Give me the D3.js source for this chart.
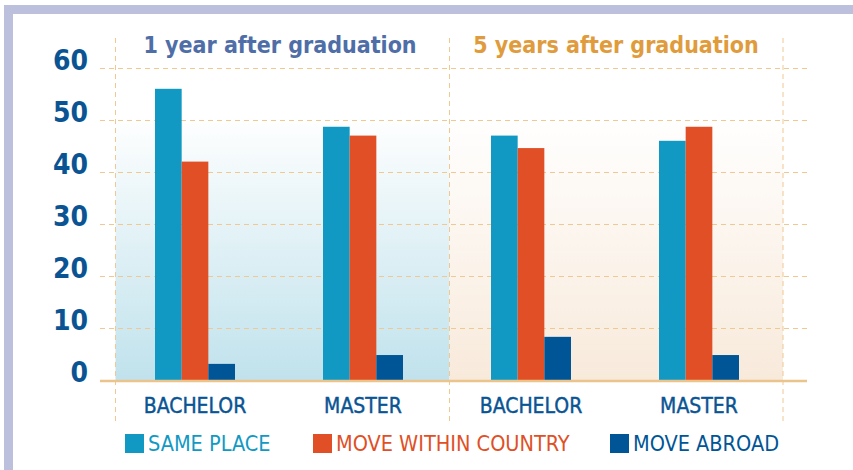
<!DOCTYPE html>
<meta charset="utf-8">
<style>
body { margin: 0; background: #fff; }
text { font-family: "DejaVu Sans Condensed", "DejaVu Sans", sans-serif; }
.grid line { stroke: #f0c890; stroke-dasharray: 5,4; stroke-width: 1px; }
</style>
<script src="https://d3js.org/d3.v7.min.js"></script>
<body>
<div id="chart"></div>
</body>
<script>
// categories and series
var categories = ["B1", "M1", "B5", "M5"];
var catLabels = ["BACHELOR", "MASTER", "BACHELOR", "MASTER"];
var seriesNames = ["SAME PLACE", "MOVE WITHIN COUNTRY", "MOVE ABROAD"];
var samePlace = [56, 48.7, 47, 46];
var moveWithin = [42, 47, 44.6, 48.7];
var moveAbroad = [3.1, 4.8, 8.3, 4.8];
var yTicks = [0, 10, 20, 30, 40, 50, 60];
var panelTitles = ["1 year after graduation", "5 years after graduation"];

var colors = ["#1199c4", "#e04f26", "#005596"];
var series = [samePlace, moveWithin, moveAbroad];

var W = 853, H = 470;
var svg = d3.select("#chart").append("svg")
    .attr("width", W)
    .attr("height", H);

// frame (top and left)
svg.append("rect").attr("x", 4).attr("y", 5).attr("width", W - 4).attr("height", 9).attr("fill", "#bcc0dc");
svg.append("rect").attr("x", 4).attr("y", 5).attr("width", 9).attr("height", H - 5).attr("fill", "#bcc0dc");

// scales
var y = d3.scaleLinear().domain([0, 60]).range([380, 68]);
var x = d3.scaleBand().domain(categories).range([111, 783]);
var xs = d3.scaleBand().domain(d3.range(3)).range([0, 80]);
var panelX = [115.5, 449.5, 783];

// background gradients
var defs = svg.append("defs");
var g1 = defs.append("linearGradient").attr("id", "gBlue").attr("x1", 0).attr("y1", 0).attr("x2", 0).attr("y2", 1);
g1.append("stop").attr("offset", "0%").attr("stop-color", "#ffffff");
g1.append("stop").attr("offset", "15%").attr("stop-color", "#ffffff");
g1.append("stop").attr("offset", "100%").attr("stop-color", "#c0e2ec");
var g2 = defs.append("linearGradient").attr("id", "gPeach").attr("x1", 0).attr("y1", 0).attr("x2", 0).attr("y2", 1);
g2.append("stop").attr("offset", "0%").attr("stop-color", "#ffffff");
g2.append("stop").attr("offset", "15%").attr("stop-color", "#ffffff");
g2.append("stop").attr("offset", "100%").attr("stop-color", "#f8eadb");

svg.append("rect").attr("x", panelX[0]).attr("y", y(60))
    .attr("width", panelX[1] - panelX[0]).attr("height", y(0) - y(60))
    .attr("fill", "url(#gBlue)");
svg.append("rect").attr("x", panelX[1]).attr("y", y(60))
    .attr("width", panelX[2] - panelX[1]).attr("height", y(0) - y(60))
    .attr("fill", "url(#gPeach)");

// horizontal grid
svg.append("g").attr("class", "grid")
  .selectAll("line").data(yTicks.filter(function(d) { return d > 0; }))
  .enter().append("line")
    .attr("x1", 100).attr("x2", 807)
    .attr("y1", function(d) { return y(d) + 0.5; })
    .attr("y2", function(d) { return y(d) + 0.5; });

// vertical dividers
svg.append("g").attr("class", "grid")
  .selectAll("line").data(panelX)
  .enter().append("line")
    .attr("x1", function(d) { return d; }).attr("x2", function(d) { return d; })
    .attr("y1", 38).attr("y2", 423);

// bars
series.forEach(function(vals, i) {
  svg.append("g").selectAll("rect").data(vals)
    .enter().append("rect")
      .attr("x", function(d, j) { return x(categories[j]) + x.bandwidth() / 2 - 40 + xs(i); })
      .attr("y", function(d) { return y(d); })
      .attr("width", xs.bandwidth())
      .attr("height", function(d) { return y(0) - y(d); })
      .attr("fill", colors[i]);
});

// baseline
svg.append("line").attr("x1", 100).attr("x2", 807)
    .attr("y1", y(0) + 1).attr("y2", y(0) + 1)
    .attr("stroke", "#ebc48c").attr("stroke-width", 2.5);

// y axis labels
svg.append("g").selectAll("text").data(yTicks)
  .enter().append("text")
    .attr("x", 88).attr("y", function(d) { return y(d) + 2; })
    .attr("text-anchor", "end")
    .attr("font-family", "'DejaVu Sans', sans-serif")
    .attr("font-weight", "bold")
    .attr("font-size", 28)
    .attr("fill", "#0a5494")
    .text(function(d) { return d; });

// x labels
svg.append("g").selectAll("text").data(categories)
  .enter().append("text")
    .attr("x", function(d) { return x(d) + x.bandwidth() / 2; })
    .attr("y", 413)
    .attr("text-anchor", "middle")
    .attr("font-size", 21)
    .attr("fill", "#0a5494")
    .attr("stroke", "#0a5494")
    .attr("stroke-width", 0.4)
    .text(function(d, i) { return catLabels[i]; });

// panel titles
svg.append("text").attr("x", 280).attr("y", 53).attr("text-anchor", "middle")
    .attr("font-weight", "bold").attr("font-size", 23).attr("fill", "#4f6ea8")
    .text(panelTitles[0]);
svg.append("text").attr("x", 616).attr("y", 53).attr("text-anchor", "middle")
    .attr("font-weight", "bold").attr("font-size", 23).attr("fill", "#e09c3c")
    .text(panelTitles[1]);

// legend
var legX = [125, 313, 610];
var leg = svg.append("g").selectAll("g").data(seriesNames)
  .enter().append("g")
    .attr("transform", function(d, i) { return "translate(" + legX[i] + ",434)"; });
leg.append("rect").attr("width", 19).attr("height", 19)
    .attr("fill", function(d, i) { return colors[i]; });
leg.append("text").attr("x", 23).attr("y", 17)
    .attr("font-size", 21.5)
    .attr("fill", function(d, i) { return colors[i]; })
    .text(function(d) { return d; });
</script>
